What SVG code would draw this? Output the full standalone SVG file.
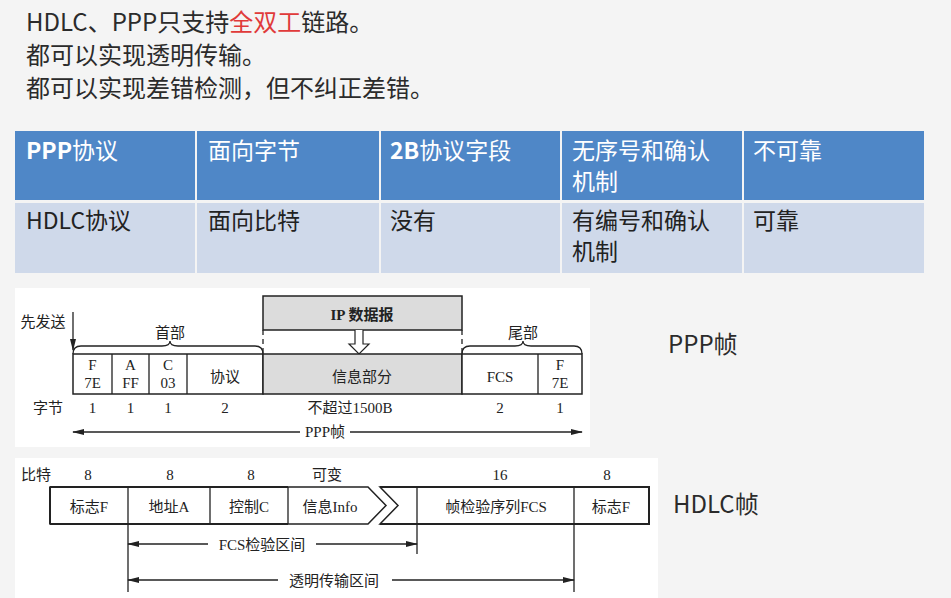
<svg xmlns="http://www.w3.org/2000/svg" width="951" height="598" viewBox="0 0 951 598">
<defs>
<style>
.t{font-family:"Noto Sans CJK SC","Noto Sans",sans-serif;fill:#2b2b2b;font-size:24px}
.th{font-family:"Noto Sans CJK SC","Noto Sans",sans-serif;fill:#fff;font-size:23px}
.td{font-family:"Noto Sans CJK SC","Noto Sans",sans-serif;fill:#222;font-size:23px}
.s{font-family:"Liberation Serif","Noto Sans CJK SC",serif;fill:#222;font-size:15px;text-anchor:middle}
.ln{stroke:#222;stroke-width:1.3;fill:none}
.bx{stroke:#222;stroke-width:1.5;fill:#fff}
.gr{stroke:#222;stroke-width:1.5;fill:#dcdcdc}
.hd{fill:#4f87c7}
.rw{fill:#cfd9ea}
</style>
<marker id="ah" markerWidth="12" markerHeight="8" refX="11" refY="4" orient="auto-start-reverse" markerUnits="userSpaceOnUse">
<path d="M0,1 L12,4 L0,7 Z" fill="#222"/>
</marker>
</defs>
<rect width="951" height="598" fill="#f4f4f4"/>
<rect x="15" y="288" width="575" height="159" fill="#fff"/>
<rect x="15" y="458" width="643" height="140" fill="#fff"/>

<g id="intro">
<text class="t" x="26" y="31">HDLC、PPP只支持<tspan fill="#e03a3a">全双工</tspan>链路。</text>
<text class="t" x="26" y="64">都可以实现透明传输。</text>
<text class="t" x="26" y="97">都可以实现差错检测，但不纠正差错。</text>
</g>

<g id="table">
<rect class="hd" x="15" y="131" width="180" height="69"/>
<rect class="hd" x="197" y="131" width="182" height="69"/>
<rect class="hd" x="381" y="131" width="179" height="69"/>
<rect class="hd" x="562" y="131" width="180" height="69"/>
<rect class="hd" x="744" y="131" width="180" height="69"/>
<rect class="rw" x="15" y="203" width="180" height="70"/>
<rect class="rw" x="197" y="203" width="182" height="70"/>
<rect class="rw" x="381" y="203" width="179" height="70"/>
<rect class="rw" x="562" y="203" width="180" height="70"/>
<rect class="rw" x="744" y="203" width="180" height="70"/>
<text class="th" x="26" y="159"><tspan font-weight="bold">PPP</tspan>协议</text>
<text class="th" x="208" y="159">面向字节</text>
<text class="th" x="390" y="159"><tspan font-weight="bold">2B</tspan>协议字段</text>
<text class="th" x="572" y="159">无序号和确认</text>
<text class="th" x="572" y="190">机制</text>
<text class="th" x="753" y="159">不可靠</text>
<text class="td" x="26" y="229">HDLC协议</text>
<text class="td" x="208" y="229">面向比特</text>
<text class="td" x="390" y="229">没有</text>
<text class="td" x="572" y="229">有编号和确认</text>
<text class="td" x="572" y="260">机制</text>
<text class="td" x="753" y="229">可靠</text>
</g>

<g id="ppp-frame">
<rect class="gr" x="263" y="296" width="199" height="34"/>
<text class="s" x="362" y="320" font-weight="bold">IP 数据报</text>
<path class="ln" d="M263,330 V354 M462,330 V354" stroke-dasharray="5,4"/>
<path d="M355,330 V344 H349 L359,354 L369,344 H363 V330" fill="#fff" stroke="#222" stroke-width="1.2"/>
<rect class="bx" x="73" y="354" width="190" height="40"/>
<rect class="gr" x="263" y="354" width="199" height="40"/>
<rect class="bx" x="462" y="354" width="120" height="40"/>
<path class="ln" d="M112,354 V394 M149,354 V394 M187,354 V394 M538,354 V394"/>
<path class="ln" d="M73,354 Q73,346 81,346 H162 Q170,346 170,341 Q170,346 178,346 H255 Q263,346 263,354"/>
<path class="ln" d="M462,354 Q462,346 470,346 H515 Q523,346 523,341 Q523,346 531,346 H574 Q582,346 582,354"/>
<text class="s" x="170" y="338">首部</text>
<text class="s" x="523" y="338">尾部</text>
<text class="s" x="43" y="327" font-size="16">先发送</text>
<line class="ln" x1="73" y1="312" x2="73" y2="350" marker-end="url(#ah)"/>
<text class="s" x="92.5" y="370">F</text><text class="s" x="92.5" y="388">7E</text>
<text class="s" x="130.5" y="370">A</text><text class="s" x="130.5" y="388">FF</text>
<text class="s" x="168" y="370">C</text><text class="s" x="168" y="388">03</text>
<text class="s" x="225" y="382">协议</text>
<text class="s" x="362" y="382">信息部分</text>
<text class="s" x="500" y="382">FCS</text>
<text class="s" x="560" y="370">F</text><text class="s" x="560" y="388">7E</text>
<text class="s" x="48" y="413">字节</text>
<text class="s" x="92.5" y="413">1</text>
<text class="s" x="130.5" y="413">1</text>
<text class="s" x="168" y="413">1</text>
<text class="s" x="225" y="413">2</text>
<text class="s" x="350" y="413">不超过1500B</text>
<text class="s" x="500" y="413">2</text>
<text class="s" x="560" y="413">1</text>
<line class="ln" x1="300" y1="432" x2="73" y2="432" marker-end="url(#ah)"/>
<line class="ln" x1="350" y1="432" x2="582" y2="432" marker-end="url(#ah)"/>
<text class="s" x="325" y="437">PPP帧</text>
</g>

<g id="hdlc-frame">
<text class="s" x="36" y="480">比特</text>
<text class="s" x="88" y="480">8</text>
<text class="s" x="170" y="480">8</text>
<text class="s" x="251" y="480">8</text>
<text class="s" x="327" y="480">可变</text>
<text class="s" x="500" y="480">16</text>
<text class="s" x="607" y="480">8</text>
<path d="M368,487 H50 V524 H368 L386,505.5 Z" fill="#fff" stroke="#222" stroke-width="1.5"/>
<path d="M380,487 H649 V524 H380 L398,505.5 Z" fill="#fff" stroke="#222" stroke-width="1.5"/>
<path d="M50,487 H288 M50,524 H288 M50,487 V524 M380,487 H649 V524 H380" fill="none" stroke="#222" stroke-width="2"/>
<path class="ln" d="M128,487 V592 M210,487 V524 M288,487 V524 M417,487 V554 M574,487 V592"/>
<text class="s" x="89" y="512">标志F</text>
<text class="s" x="169" y="512">地址A</text>
<text class="s" x="249" y="512">控制C</text>
<text class="s" x="330" y="512">信息Info</text>
<text class="s" x="496" y="512">帧检验序列FCS</text>
<text class="s" x="611" y="512">标志F</text>
<line class="ln" x1="208" y1="544" x2="128" y2="544" marker-end="url(#ah)"/>
<line class="ln" x1="316" y1="544" x2="417" y2="544" marker-end="url(#ah)"/>
<text class="s" x="262" y="550">FCS检验区间</text>
<line class="ln" x1="278" y1="580" x2="128" y2="580" marker-end="url(#ah)"/>
<line class="ln" x1="392" y1="580" x2="574" y2="580" marker-end="url(#ah)"/>
<text class="s" x="334" y="586">透明传输区间</text>
</g>

<g id="labels">
<text class="t" x="668" y="353" font-size="23">PPP帧</text>
<text class="t" x="673" y="513" font-size="23">HDLC帧</text>
</g>
</svg>
